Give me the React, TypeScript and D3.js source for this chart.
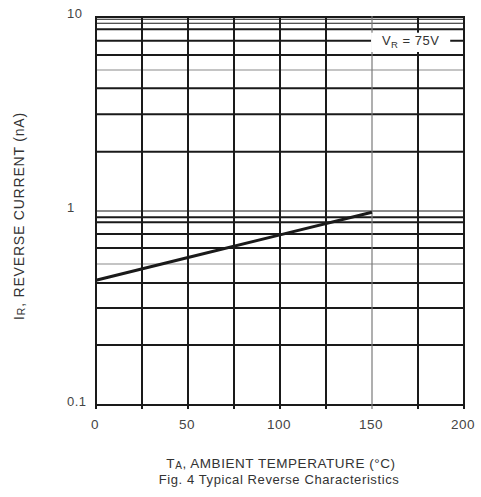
import React, { useEffect, useRef } from 'react';
import * as d3 from 'd3';

// Curve: reverse current (nA) vs ambient temperature (°C), VR = 75V
const temps = [0, 50, 100, 150];
const current = [0.44, 0.576, 0.753, 0.985];

// Axis ticks
const xTicks = [0, 50, 100, 150, 200];
const xGrid = [0, 25, 50, 75, 100, 125, 150, 175, 200];
const yTicks = [0.1, 1, 10];
const yTickLabels = ['0.1', '1', '10'];

// Horizontal grid lines as drawn on the original sheet
const yGrid = [
    0.1, 0.204, 0.316, 0.426, 0.533, 0.645, 0.761, 0.875, 0.928, 1,
    2.02, 3.15, 4.29, 5.33, 6.37, 7.55, 8.64, 9.28, 9.73, 10
];
const yGridThin = [1, 9.28, 9.73];
const yGridLight = [0.533, 5.33];
const xGridLight = [150];

const App = () => {
    const ref = useRef<SVGSVGElement>(null);

    useEffect(() => {
        const svg = d3.select(ref.current);
        svg.selectAll('*').remove();

        const left = 96, right = 464, top = 17, bottom = 405;
        const font = "'Liberation Sans', Arial, sans-serif";
        const ink = '#1a1a1a';

        const x = d3.scaleLinear().domain([0, 200]).range([left, right]);
        const y = d3.scaleLog().domain([0.1, 10]).range([bottom, top]);

        const grid = svg.append('g');

        // horizontal lines
        grid.selectAll('line.h')
            .data(yGrid)
            .enter()
            .append('line')
            .attr('x1', left)
            .attr('x2', right)
            .attr('y1', d => y(d))
            .attr('y2', d => y(d))
            .attr('stroke', d => yGridLight.includes(d) ? '#8a8a8a' : ink)
            .attr('stroke-width', d => (yGridLight.includes(d) || yGridThin.includes(d)) ? 1.1 : 2);

        // vertical lines (extend a little below the frame like tick marks)
        grid.selectAll('line.v')
            .data(xGrid)
            .enter()
            .append('line')
            .attr('x1', d => x(d))
            .attr('x2', d => x(d))
            .attr('y1', top - 1)
            .attr('y2', bottom + 4)
            .attr('stroke', d => xGridLight.includes(d) ? '#7a7a7a' : ink)
            .attr('stroke-width', d => xGridLight.includes(d) ? 1.2 : 2);

        // curve
        const line = d3.line<number>()
            .x((d, i) => x(temps[i]))
            .y(d => y(d));
        svg.append('path')
            .datum(current)
            .attr('d', line)
            .attr('fill', 'none')
            .attr('stroke', ink)
            .attr('stroke-width', 3);

        // VR label box
        svg.append('rect')
            .attr('x', x(149.5))
            .attr('y', y(8.3))
            .attr('width', x(192.5) - x(149.5))
            .attr('height', y(6.6) - y(8.3))
            .attr('fill', '#fff');
        const vr = svg.append('text')
            .attr('x', x(171))
            .attr('y', y(7.55) + 4.5)
            .attr('text-anchor', 'middle')
            .attr('font-family', font)
            .attr('font-size', 13)
            .attr('letter-spacing', 0.5)
            .attr('fill', '#333');
        vr.append('tspan').text('V');
        vr.append('tspan').attr('font-size', 9.5).attr('dy', 3).text('R');
        vr.append('tspan').attr('dy', -3).text(' = 75V');

        // y tick labels
        svg.selectAll('text.yt')
            .data(yTicks)
            .enter()
            .append('text')
            .attr('x', 67)
            .attr('y', d => y(d) + 1)
            .attr('font-family', font)
            .attr('font-size', 13)
            .attr('letter-spacing', 0.5)
            .attr('fill', '#444')
            .text((d, i) => yTickLabels[i]);

        // x tick labels
        svg.selectAll('text.xt')
            .data(xTicks)
            .enter()
            .append('text')
            .attr('x', d => x(d) - 1)
            .attr('y', 429)
            .attr('text-anchor', 'middle')
            .attr('font-family', font)
            .attr('font-size', 13.5)
            .attr('letter-spacing', 0.5)
            .attr('fill', '#444')
            .text(d => d);

        // x axis title
        const xt = svg.append('text')
            .attr('x', 281)
            .attr('y', 468)
            .attr('text-anchor', 'middle')
            .attr('font-family', font)
            .attr('font-size', 13.5)
            .attr('letter-spacing', 0.55)
            .attr('fill', '#333');
        xt.append('tspan').text('T');
        xt.append('tspan').attr('font-size', 10).attr('dy', 1).text('A');
        xt.append('tspan').attr('dy', -1).text(', AMBIENT TEMPERATURE (°C)');

        svg.append('text')
            .attr('x', 279)
            .attr('y', 484)
            .attr('text-anchor', 'middle')
            .attr('font-family', font)
            .attr('font-size', 13)
            .attr('letter-spacing', 0.6)
            .attr('fill', '#333')
            .text('Fig. 4  Typical Reverse Characteristics');

        // y axis title
        const yt = svg.append('text')
            .attr('transform', 'translate(24,216) rotate(-90)')
            .attr('text-anchor', 'middle')
            .attr('font-family', font)
            .attr('font-size', 14)
            .attr('letter-spacing', 0.8)
            .attr('fill', '#333');
        yt.append('tspan').text('I');
        yt.append('tspan').attr('font-size', 10.5).attr('dy', 1).text('R');
        yt.append('tspan').attr('dy', -1).text(', REVERSE  CURRENT (nA)');
    }, []);

    return (
        <svg ref={ref} width={481} height={497}
            style={{ position: 'absolute', left: 0, top: 0, background: '#fff' }} />
    );
};

export default App;
